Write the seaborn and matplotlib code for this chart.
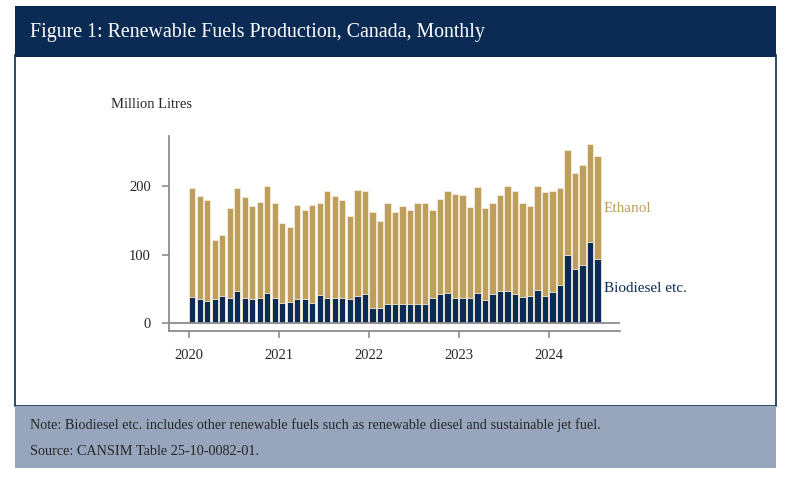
import matplotlib
matplotlib.use("Agg")
import matplotlib.pyplot as plt
import matplotlib.patches as mpatches
import seaborn as sns
import pandas as pd

# Monthly values, Jan 2020 - Jul 2024 (million litres)
years = [2020, 2021, 2022, 2023, 2024]
biodiesel = [
    38, 35, 32, 35, 40, 37, 46, 37, 35, 37, 43, 36,
    29, 30, 35, 35, 29, 41, 37, 37, 37, 35, 39, 42,
    22, 21, 28, 28, 28, 28, 27, 28, 36, 42, 44, 37,
    36, 37, 43, 34, 42, 47, 46, 42, 38, 40, 48, 39,
    45, 55, 99, 79, 85, 118, 93,
]
ethanol = [
    159, 151, 148, 86, 89, 131, 151, 148, 136, 140, 157, 140,
    117, 110, 138, 131, 144, 135, 156, 149, 143, 122, 156, 152,
    140, 129, 147, 134, 143, 138, 149, 148, 129, 139, 149, 152,
    151, 133, 156, 135, 133, 140, 154, 152, 138, 131, 153, 153,
    149, 142, 154, 141, 146, 144, 152,
]
y_ticks = [0, 100, 200]

NAVY = "#0c2b54"
GOLD = "#bd9e5c"
FOOT = "#97a5bd"
GREY = "#8c8c8c"

df = pd.DataFrame({"month": range(len(biodiesel)),
                   "biodiesel": biodiesel, "ethanol": ethanol})
df["total"] = df["biodiesel"] + df["ethanol"]

sns.set_style("white")
plt.rcParams["font.family"] = ["Liberation Serif", "DejaVu Serif"]

W, H = 800, 490
fig = plt.figure(figsize=(8, 4.9), dpi=100)

# frame, header band, footer band (behind the axes)
def box(x0, y0, x1, y1, fc, ec="none", lw=0):
    r = mpatches.Rectangle((x0 / W, 1 - y1 / H), (x1 - x0) / W, (y1 - y0) / H,
                           transform=fig.transFigure, facecolor=fc,
                           edgecolor=ec, linewidth=lw, zorder=-5)
    fig.patches.append(r)

box(15, 55, 776, 406, "white", NAVY, 1.2)
box(15, 6, 776, 57, NAVY)
box(15, 406, 776, 468, FOOT)

fig.text(30 / W, 1 - 32 / H, "Figure 1: Renewable Fuels Production, Canada, Monthly",
         color="white", fontsize=14.3, va="center", ha="left")
fig.text(111 / W, 1 - 104 / H, "Million Litres", fontsize=10.5, va="center", ha="left")
fig.text(30 / W, 1 - 425 / H,
         "Note: Biodiesel etc. includes other renewable fuels such as renewable diesel and sustainable jet fuel.",
         fontsize=10.3, va="center", ha="left")
fig.text(30 / W, 1 - 451 / H, "Source: CANSIM Table 25-10-0082-01.",
         fontsize=10.3, va="center", ha="left")

ax = fig.add_axes([169 / W, 1 - 331 / H, (620 - 169) / W, (331 - 136) / H])
ax.patch.set_alpha(0)

sns.barplot(data=df, x="month", y="total", color=GOLD, saturation=1, width=0.84,
            edgecolor="#f3ecd9", linewidth=0.6, ax=ax)
sns.barplot(data=df, x="month", y="biodiesel", color=NAVY, saturation=1, width=0.84,
            edgecolor="#f3ecd9", linewidth=0.6, ax=ax)

ax.axhline(0, color=GREY, linewidth=1.3, zorder=3)
ax.set_xlim(-3.1, 57.0)
ax.set_ylim(-12, 274)

ax.set_yticks(y_ticks)
ax.set_yticklabels([str(v) for v in y_ticks], fontsize=10.5)
ax.set_xticks([12 * i - 0.45 for i in range(len(years))])
ax.set_xticklabels([str(y) for y in years], fontsize=10.5)
ax.tick_params(axis="y", left=True, length=5, width=1.2, color=GREY, pad=8, direction="out")
ax.tick_params(axis="x", bottom=True, length=5, width=1.2, color=GREY, pad=8, direction="out")
ax.set_xlabel("")
ax.set_ylabel("")

for s in ["top", "right"]:
    ax.spines[s].set_visible(False)
for s in ["left", "bottom"]:
    ax.spines[s].set_color(GREY)
    ax.spines[s].set_linewidth(1.3)

fig.text(604 / W, 1 - 209 / H, "Ethanol", color=GOLD, fontsize=11, va="center", ha="left")
fig.text(604 / W, 1 - 289 / H, "Biodiesel etc.", color=NAVY, fontsize=11, va="center", ha="left")

fig.savefig("out.png", dpi=100)
